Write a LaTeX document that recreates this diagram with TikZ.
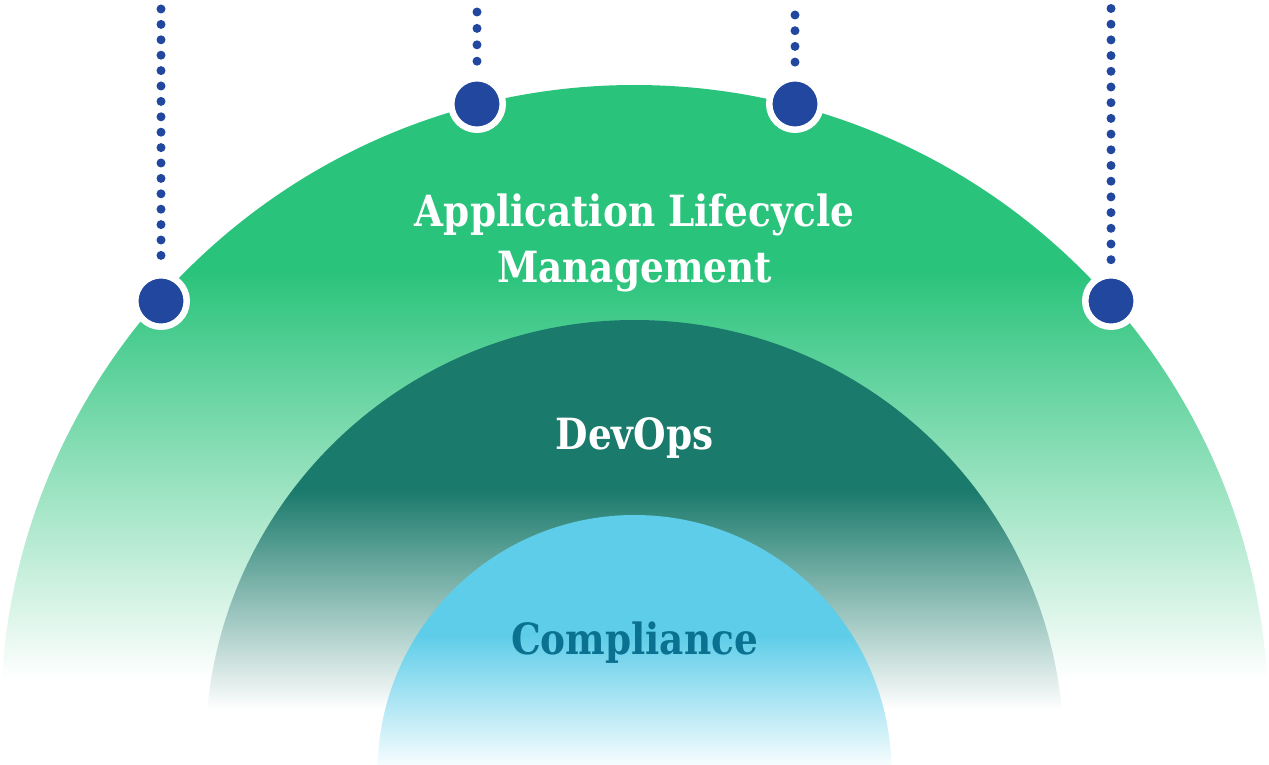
\documentclass[tikz,border=0pt]{standalone}
\usepackage{fontspec}
\newfontfamily\lblfont{DejaVu Serif}[FakeStretch=0.87]
\definecolor{almgreen}{HTML}{29C37B}
\definecolor{devteal}{HTML}{1A7A6B}
\definecolor{compblue}{HTML}{5ECDE9}
\definecolor{comptext}{HTML}{0A7290}
\definecolor{dotblue}{HTML}{22479E}
\begin{document}
\begin{tikzpicture}[x=1pt,y=-1pt,
    bigdot/.style={circle,fill=dotblue,draw=white,line width=6.5pt,minimum size=51.5pt,inner sep=0pt},
    dotline/.style={dotblue,line width=9pt,line cap=round,dash pattern=on 0pt off #1},
    lbl/.style={font=\lblfont\bfseries\fontsize{43}{56}\selectfont,align=center}]
    \useasboundingbox (0,0) rectangle (1269,765);

    % outer ring
    \begin{scope}
        \clip (0.5,719) arc[start angle=180,end angle=360,radius=634] -- cycle;
        \fill[almgreen] (0,80) rectangle (1269,270);
        \shade[top color=almgreen,bottom color=white] (0,270) rectangle (1269,680);
    \end{scope}
    % middle ring
    \begin{scope}
        \clip (205.5,749) arc[start angle=180,end angle=360,radius=429] -- cycle;
        \fill[devteal] (0,315) rectangle (1269,490);
        \shade[top color=devteal,bottom color=white] (0,490) rectangle (1269,710);
    \end{scope}
    % inner ring
    \begin{scope}
        \clip (377.5,772) arc[start angle=180,end angle=360,radius=257] -- cycle;
        \fill[compblue] (0,510) rectangle (1269,635);
        \shade[top color=compblue,bottom color=white] (0,635) rectangle (1269,772);
    \end{scope}

    \node[lbl,white] (ALM) at (634.5,243) {Application Lifecycle\\Management};
    \node[lbl,white,anchor=base] (DEV) at (634.5,449) {DevOps};
    \node[lbl,comptext,anchor=base] (COMP) at (634.5,654) {Compliance};

    \node[bigdot] (D1) at (161,301) {};
    \node[bigdot] (D2) at (477,104) {};
    \node[bigdot] (D3) at (795,104) {};
    \node[bigdot] (D4) at (1111,301) {};
    \coordinate (T1) at (161,9);
    \coordinate (T2) at (477,12);
    \coordinate (T3) at (795,15);
    \coordinate (T4) at (1111,8.5);

    \draw[dotline=15.4pt,shorten >=14pt] (T1) -- (D1);
    \draw[dotline=16.4pt,shorten >=4pt] (T2) -- (D2);
    \draw[dotline=15.7pt,shorten >=4pt] (T3) -- (D3);
    \draw[dotline=15.7pt,shorten >=8pt] (T4) -- (D4);
\end{tikzpicture}
\end{document}
